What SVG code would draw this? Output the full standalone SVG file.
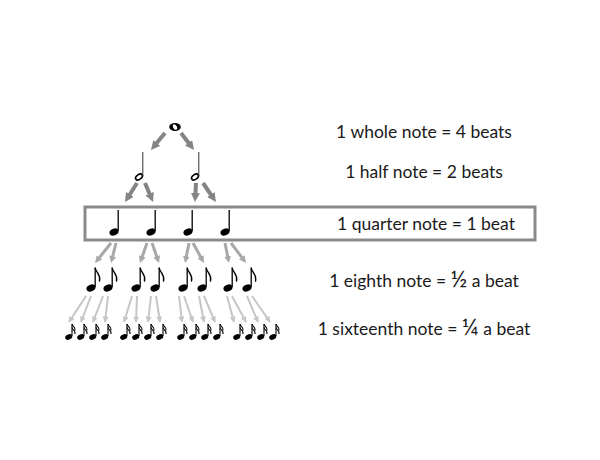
<svg xmlns="http://www.w3.org/2000/svg" width="600" height="460" viewBox="0 0 600 460">
<style>
.lbl{font-family:Lato,"Open Sans","Liberation Sans",sans-serif;font-size:17.5px;fill:#1a1a1a;text-anchor:middle}
.frac{font-size:23px}
.a1{stroke:#848484;stroke-width:4;fill:none;marker-end:url(#m1)}
.a2{stroke:#a8a8a8;stroke-width:3;fill:none;marker-end:url(#m2)}
.a3{stroke:#c6c6c6;stroke-width:2;fill:none;marker-end:url(#m3)}
.stem{stroke:#000;stroke-width:1.3;fill:none}
.flag{stroke:#000;stroke-width:1.4;fill:none;stroke-linecap:round}
</style>
<defs>
<marker id="m1" markerUnits="userSpaceOnUse" markerWidth="9" markerHeight="9" viewBox="0 0 10 10" refX="3" refY="5" orient="auto"><path d="M0,0 L10,5 L0,10 z" fill="#848484"/></marker>
<marker id="m2" markerUnits="userSpaceOnUse" markerWidth="7" markerHeight="7" viewBox="0 0 10 10" refX="3" refY="5" orient="auto"><path d="M0,0 L10,5 L0,10 z" fill="#a8a8a8"/></marker>
<marker id="m3" markerUnits="userSpaceOnUse" markerWidth="6" markerHeight="6" viewBox="0 0 10 10" refX="9" refY="5" orient="auto"><path d="M0,0 L10,5 L0,10 z" fill="#c6c6c6"/></marker>
<g id="quarter"><ellipse rx="4.7" ry="3.3" transform="rotate(-25)" fill="#000"/><line class="stem" x1="4.2" y1="-1" x2="4.2" y2="-22"/></g>
<g id="half"><ellipse rx="3.8" ry="2.4" transform="rotate(-35)" fill="#fff" stroke="#000" stroke-width="1.6"/><line x1="3.8" y1="-1" x2="3.8" y2="-25" stroke="#333" stroke-width="1"/></g>
<g id="eighth"><ellipse rx="4.7" ry="3.3" transform="rotate(-25)" fill="#000"/><line class="stem" x1="4.2" y1="-1" x2="4.2" y2="-20"/><path class="flag" d="M4.2,-20 C5,-15 10,-14 8.5,-7"/></g>
<g id="sixteenth"><ellipse rx="3.7" ry="2.6" transform="rotate(-25)" fill="#000"/><line x1="3.3" y1="-1" x2="3.3" y2="-13" stroke="#000" stroke-width="1.1"/><path d="M3.3,-13 C4,-10 7,-10 6.3,-6.5 M3.3,-9.5 C4,-6.5 7,-6.5 6.3,-3" stroke="#000" stroke-width="1.1" fill="none"/></g>
</defs>
<rect width="600" height="460" fill="#fff"/>

<g id="connectors">
<line class="a1" x1="165" y1="133" x2="155" y2="145.1"/>
<line class="a1" x1="181" y1="133" x2="190.2" y2="145"/>
<line class="a1" x1="137" y1="183" x2="128.4" y2="196.7"/>
<line class="a1" x1="145" y1="183" x2="150.6" y2="196.2"/>
<line class="a1" x1="196" y1="183" x2="195.3" y2="195.7"/>
<line class="a1" x1="203" y1="183" x2="212.4" y2="196.8"/>

<line class="a2" x1="111" y1="243" x2="98.1" y2="259.2"/>
<line class="a2" x1="116" y1="243" x2="112.2" y2="258.2"/>
<line class="a2" x1="147" y1="243" x2="141.6" y2="258.4"/>
<line class="a2" x1="152" y1="243" x2="157.4" y2="258.4"/>
<line class="a2" x1="189" y1="243" x2="186" y2="258.2"/>
<line class="a2" x1="193" y1="243" x2="201.6" y2="258.7"/>
<line class="a2" x1="225" y1="243" x2="228" y2="258.2"/>
<line class="a2" x1="231" y1="243" x2="243.1" y2="259.1"/>

<line class="a3" x1="86" y1="296" x2="69" y2="322"/>
<line class="a3" x1="91" y1="296" x2="81" y2="322"/>
<line class="a3" x1="103" y1="296" x2="93" y2="322"/>
<line class="a3" x1="108" y1="296" x2="105" y2="322"/>
<line class="a3" x1="132" y1="296" x2="124" y2="322"/>
<line class="a3" x1="137" y1="296" x2="136" y2="322"/>
<line class="a3" x1="151" y1="296" x2="148" y2="322"/>
<line class="a3" x1="156" y1="296" x2="160" y2="322"/>
<line class="a3" x1="179" y1="296" x2="182" y2="322"/>
<line class="a3" x1="184" y1="296" x2="193" y2="322"/>
<line class="a3" x1="199" y1="296" x2="204" y2="322"/>
<line class="a3" x1="204" y1="296" x2="215" y2="322"/>
<line class="a3" x1="227" y1="296" x2="234" y2="322"/>
<line class="a3" x1="232" y1="296" x2="246" y2="322"/>
<line class="a3" x1="247" y1="296" x2="258" y2="322"/>
<line class="a3" x1="252" y1="296" x2="270" y2="322"/>
</g>

<g id="quarter-box"><rect x="85" y="207" width="450" height="33" fill="none" stroke="#8a8a8a" stroke-width="3"/></g>

<g id="whole"><ellipse cx="175" cy="127" rx="5.8" ry="4" fill="#000"/><ellipse cx="175" cy="127" rx="1.8" ry="3" transform="rotate(-30 175 127)" fill="#fff"/></g>

<g id="half-1"><use href="#half" x="139" y="177"/></g>
<g id="half-2"><use href="#half" x="195" y="177"/></g>

<g id="quarter-1"><use href="#quarter" x="114" y="232"/></g>
<g id="quarter-2"><use href="#quarter" x="151" y="232"/></g>
<g id="quarter-3"><use href="#quarter" x="188" y="232"/></g>
<g id="quarter-4"><use href="#quarter" x="225" y="232"/></g>

<g id="eighth-1"><use href="#eighth" x="91" y="288"/></g>
<g id="eighth-2"><use href="#eighth" x="108" y="288"/></g>
<g id="eighth-3"><use href="#eighth" x="136" y="288"/></g>
<g id="eighth-4"><use href="#eighth" x="155" y="288"/></g>
<g id="eighth-5"><use href="#eighth" x="183" y="288"/></g>
<g id="eighth-6"><use href="#eighth" x="202" y="288"/></g>
<g id="eighth-7"><use href="#eighth" x="228" y="288"/></g>
<g id="eighth-8"><use href="#eighth" x="247" y="288"/></g>

<g id="sixteenth-1"><use href="#sixteenth" x="68.7" y="337"/></g>
<g id="sixteenth-2"><use href="#sixteenth" x="80.7" y="337"/></g>
<g id="sixteenth-3"><use href="#sixteenth" x="92.7" y="337"/></g>
<g id="sixteenth-4"><use href="#sixteenth" x="104.7" y="337"/></g>
<g id="sixteenth-5"><use href="#sixteenth" x="123.7" y="337"/></g>
<g id="sixteenth-6"><use href="#sixteenth" x="135.7" y="337"/></g>
<g id="sixteenth-7"><use href="#sixteenth" x="147.7" y="337"/></g>
<g id="sixteenth-8"><use href="#sixteenth" x="159.7" y="337"/></g>
<g id="sixteenth-9"><use href="#sixteenth" x="180.7" y="337"/></g>
<g id="sixteenth-10"><use href="#sixteenth" x="192.7" y="337"/></g>
<g id="sixteenth-11"><use href="#sixteenth" x="204.7" y="337"/></g>
<g id="sixteenth-12"><use href="#sixteenth" x="216.7" y="337"/></g>
<g id="sixteenth-13"><use href="#sixteenth" x="236.7" y="337"/></g>
<g id="sixteenth-14"><use href="#sixteenth" x="248.7" y="337"/></g>
<g id="sixteenth-15"><use href="#sixteenth" x="260.7" y="337"/></g>
<g id="sixteenth-16"><use href="#sixteenth" x="272.7" y="337"/></g>

<g id="labels">
<text class="lbl" x="424" y="138">1 whole note = 4 beats</text>
<text class="lbl" x="424" y="178">1 half note = 2 beats</text>
<text class="lbl" x="426" y="230">1 quarter note = 1 beat</text>
<text class="lbl" x="424" y="287">1 eighth note = <tspan class="frac">½</tspan> a beat</text>
<text class="lbl" x="424" y="335">1 sixteenth note = <tspan class="frac">¼</tspan> a beat</text>
</g>
</svg>
